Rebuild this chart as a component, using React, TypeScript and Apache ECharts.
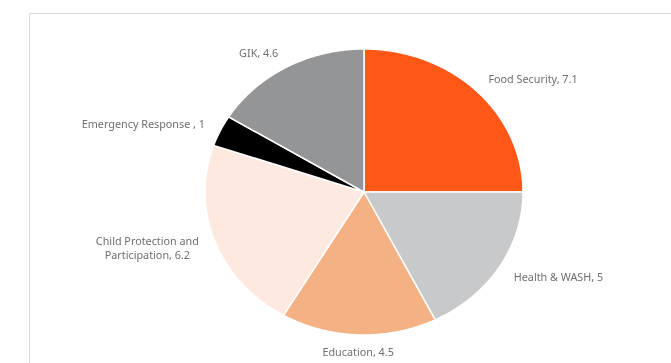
import React, { useEffect, useRef } from "react";
import * as echarts from "echarts";

const categories = [
  "Food Security",
  "Health & WASH",
  "Education",
  "Child Protection and Participation",
  "Emergency Response ",
  "GIK",
];
const values = [7.1, 5, 4.5, 6.2, 1, 4.6];
const colors = ["#FE5716", "#C8C9CA", "#F4B183", "#FDE9E0", "#000000", "#949597"];

const FONT_SIZE = 10.8;
const FONT_FAMILY = "Noto Sans";
const WRAP = 140;

function wrapText(text: string): { text: string; width: number } {
  const ctx = document.createElement("canvas").getContext("2d")!;
  ctx.font = `${FONT_SIZE}px "${FONT_FAMILY}"`;
  const words = text.split(" ");
  const lines: string[] = [];
  let cur = "";
  for (const w of words) {
    const trial = cur === "" ? w : cur + " " + w;
    if (cur !== "" && ctx.measureText(trial).width > WRAP) {
      lines.push(cur);
      cur = w;
    } else {
      cur = trial;
    }
  }
  lines.push(cur);
  const width = Math.max(...lines.map((l) => ctx.measureText(l).width));
  return { text: lines.join("\n"), width };
}

export default function App() {
  const ref = useRef<HTMLDivElement>(null);
  useEffect(() => {
    const chart = echarts.init(ref.current!, null, { renderer: "svg" });
    const total = values.reduce((a, b) => a + b, 0);
    const starts: number[] = [];
    let acc = 0;
    values.forEach((v) => {
      starts.push(acc);
      acc += v;
    });
    const data = values.map((v, i) => ({
      name: categories[i],
      value: [v, starts[i]],
      itemStyle: { color: colors[i] },
    }));
    const cx = 364,
      cy = 192,
      rx = 159,
      ry = 143,
      gap = 17;
    chart.setOption({
      animation: false,
      graphic: [
        {
          type: "polyline",
          silent: true,
          shape: { points: [[29.5, 400], [29.5, 13.5], [700, 13.5]] },
          style: { stroke: "#D9D9D9", lineWidth: 1, fill: null },
        },
      ],
      series: [
        {
          type: "custom",
          coordinateSystem: "none",
          data,
          renderItem: (params: any, api: any) => {
            const i = params.dataIndex;
            const v = api.value(0) as number;
            const s = api.value(1) as number;
            const a0 = (s / total) * 2 * Math.PI;
            const a1 = ((s + v) / total) * 2 * Math.PI;
            const pts: number[][] = [[cx, cy]];
            const n = Math.max(2, Math.ceil((a1 - a0) / 0.01));
            for (let k = 0; k <= n; k++) {
              const a = a0 + ((a1 - a0) * k) / n;
              pts.push([cx + rx * Math.sin(a), cy - ry * Math.cos(a)]);
            }
            const am = (a0 + a1) / 2;
            const sx = Math.sin(am);
            const sy = -Math.cos(am);
            const lx = cx + (rx + gap) * sx;
            const ly = cy + (ry + gap) * sy;
            const wrapped = wrapText(`${categories[i]}, ${v}`);
            const tx =
              sx > 0.2 ? lx + wrapped.width / 2 : sx < -0.2 ? lx - wrapped.width / 2 : lx;
            return {
              type: "group",
              children: [
                {
                  type: "polygon",
                  shape: { points: pts },
                  style: { fill: colors[i], stroke: "#ffffff", lineWidth: 1.5 },
                },
                {
                  type: "text",
                  x: tx,
                  y: ly,
                  style: {
                    text: wrapped.text,
                    align: "center",
                    verticalAlign: "middle",
                    fill: "#6E6E6E",
                    fontSize: FONT_SIZE,
                    fontFamily: FONT_FAMILY,
                    lineHeight: 14,
                  },
                },
              ],
            };
          },
        },
      ],
    });
    return () => chart.dispose();
  }, []);
  return (
    <div
      ref={ref}
      style={{ position: "fixed", left: 0, top: 0, width: 671, height: 363 }}
    />
  );
}
